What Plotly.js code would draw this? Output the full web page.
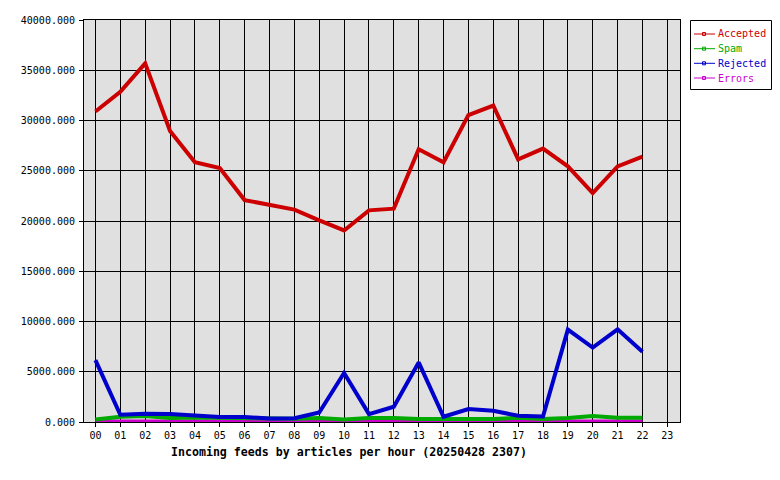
<!DOCTYPE html>
<html>
<head>
<meta charset="utf-8">
<script src="https://cdn.plot.ly/plotly-3.0.1.min.js"></script>
<style>html,body{margin:0;padding:0;background:#fff;}#chart{width:780px;height:480px;}</style>
</head>
<body>
<div id="chart"></div>
<script>
const hours = [0,1,2,3,4,5,6,7,8,9,10,11,12,13,14,15,16,17,18,19,20,21,22];
const tickHours = [0,1,2,3,4,5,6,7,8,9,10,11,12,13,14,15,16,17,18,19,20,21,22,23];
const tickLabels = ['00','01','02','03','04','05','06','07','08','09','10','11','12','13','14','15','16','17','18','19','20','21','22','23'];
const accepted = [30900,32850,35680,28960,25840,25270,22080,21620,21130,20060,19060,21060,21230,27140,25850,30530,31490,26140,27210,25440,22780,25440,26410];
const spam = [250,520,590,390,450,420,390,320,320,390,250,390,390,290,290,290,290,420,290,390,590,420,420];
const rejected = [6150,720,820,800,650,490,490,350,380,950,4880,790,1520,5930,520,1290,1120,620,550,9190,7400,9220,7000];
const errors = [60,60,60,60,60,60,60,60,60,60,60,60,60,60,60,60,60,60,60,60,60,60,60];
const seriesNames = ['Accepted','Spam','Rejected','Errors'];
const seriesColors = ['#cc0000','#00aa00','#0000cc','#cc00cc'];
const yTicks = [0,5000,10000,15000,20000,25000,30000,35000,40000];
const xTitle = 'Incoming feeds by articles per hour (20250428 2307)';

const FONT = 'DejaVu Sans Mono, Liberation Mono, monospace';
const W = 780, H = 480, ML = 84, MR = 100, MT = 20, MB = 58;
const PW = W - ML - MR, PH = H - MT - MB;
const px = v => (v - ML) / PW;          // pixel x -> paper x
const py = v => (H - MB - v) / PH;      // pixel y -> paper y

const dataSets = [accepted, spam, rejected, errors];
const traces = [];
[3,1,2,0].forEach(i => {
  traces.push({x: hours, y: dataSets[i], type: 'scatter', mode: 'lines',
    line: {color: seriesColors[i], width: 4}, showlegend: false, hoverinfo: 'skip'});
});

// custom legend
const shapes = [{type: 'rect', xref: 'paper', yref: 'paper', x0: px(690.5), x1: px(771.5), y0: py(20.5), y1: py(89.5),
  line: {color: '#000', width: 1}, fillcolor: '#fff', layer: 'above'}];
const annotations = [{text: '<b>' + xTitle + '</b>', xref: 'paper', yref: 'paper', x: px(348.5), y: py(452),
  xanchor: 'center', yanchor: 'middle', showarrow: false, font: {family: FONT, size: 11.6, color: '#000'}}];
const rowY = [34, 48.7, 63.3, 78];
seriesNames.forEach((n, i) => {
  const y = rowY[i];
  shapes.push({type: 'line', xref: 'paper', yref: 'paper', x0: px(694), x1: px(715), y0: py(y), y1: py(y),
    line: {color: seriesColors[i], width: 1}, layer: 'above'});
  shapes.push({type: 'rect', xref: 'paper', yref: 'paper', x0: px(702.5), x1: px(705.5), y0: py(y - 1.5), y1: py(y + 1.5),
    line: {color: seriesColors[i], width: 1}, fillcolor: 'rgba(0,0,0,0)', layer: 'above'});
  annotations.push({text: n, xref: 'paper', yref: 'paper', x: px(716.5), y: py(y), xanchor: 'left', yanchor: 'middle',
    showarrow: false, font: {family: FONT, size: 10, color: seriesColors[i]}, borderpad: 0});
});

const layout = {
  width: W, height: H,
  margin: {l: ML, r: MR, t: MT, b: MB, pad: 0},
  paper_bgcolor: '#ffffff', plot_bgcolor: '#e0e0e0',
  font: {family: FONT, size: 10, color: '#000'},
  showlegend: false,
  xaxis: {range: [-0.46, 23.51], tickvals: tickHours, ticktext: tickLabels,
    showgrid: true, gridcolor: '#000', gridwidth: 1, zeroline: false,
    showline: true, linecolor: '#000', linewidth: 1, mirror: true,
    ticks: 'outside', ticklen: 4, tickcolor: '#000', tickfont: {family: FONT, size: 10}},
  yaxis: {range: [0, 40000], tickvals: yTicks, tickformat: '.3f',
    showgrid: true, gridcolor: '#000', gridwidth: 1, zeroline: false,
    showline: true, linecolor: '#000', linewidth: 1, mirror: true,
    ticks: 'outside', ticklen: 4, tickcolor: '#000', ticklabelstandoff: 2, tickfont: {family: FONT, size: 10}},
  shapes: shapes,
  annotations: annotations
};
Plotly.newPlot('chart', traces, layout, {staticPlot: true, displayModeBar: false});
</script>
</body>
</html>
